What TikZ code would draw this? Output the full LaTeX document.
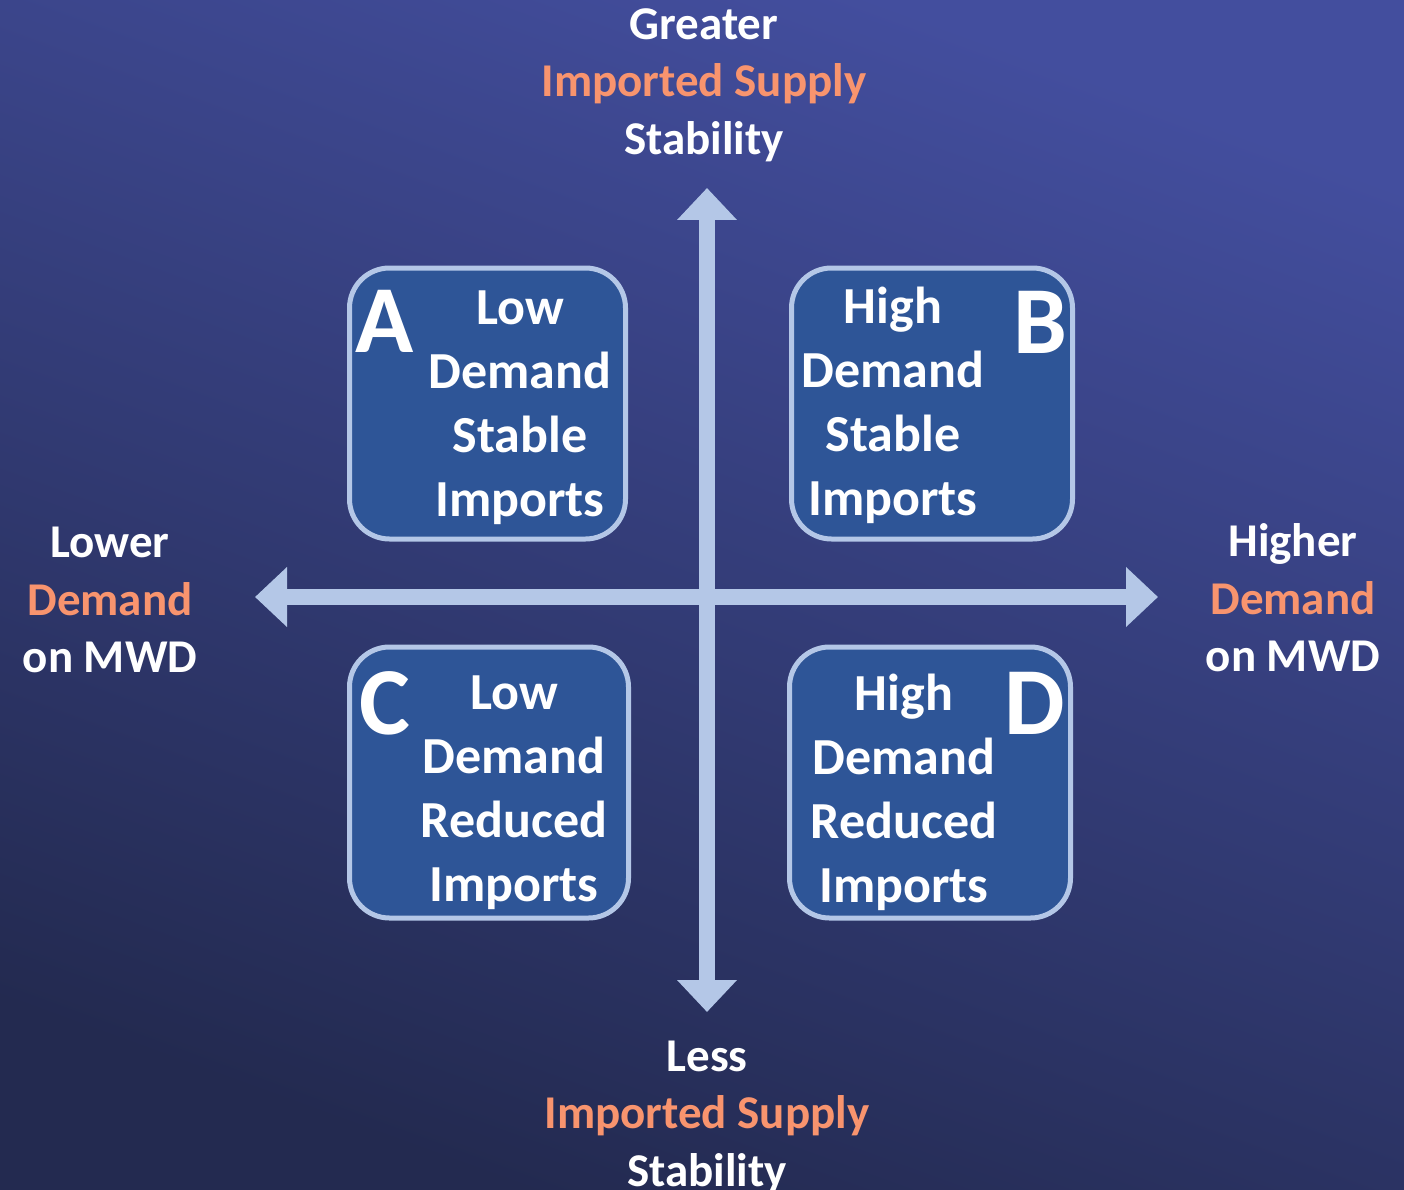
\documentclass[tikz,border=0pt]{standalone}
\usepackage{fontspec}
\setmainfont{Carlito}
\usetikzlibrary{arrows.meta,positioning}
\definecolor{bgtop}{RGB}{67,78,158}
\definecolor{bgbot}{RGB}{35,42,80}
\definecolor{boxblue}{RGB}{46,85,151}
\definecolor{paleblue}{RGB}{180,199,231}
\definecolor{salmon}{RGB}{248,148,110}

\begin{document}
\begin{tikzpicture}[x=1pt, y=-1pt,
    quad/.style={draw=paleblue, line width=5pt, fill=boxblue, rounded corners=40pt, minimum height=271pt},
    quadtext/.style={text=white, align=center, inner sep=0pt, font=\fontsize{52}{64}\selectfont\bfseries},
    quadletter/.style={text=white, inner sep=0pt, font=\fontsize{96}{96}\selectfont\bfseries},
    axlabel/.style={text=white, align=center, inner sep=0pt, font=\fontsize{47}{57.5}\selectfont\bfseries},
    axis/.style={draw=paleblue, line width=16pt, {Triangle[width=58pt,length=32pt]}-{Triangle[width=58pt,length=32pt]}}]

    % Fond
    \shade[top color=bgtop, bottom color=bgbot, shading angle=-20] (0,0) rectangle (1404,1190);
    \useasboundingbox (0,0) rectangle (1404,1190);

    % Axes
    \coordinate (vtop) at (707,188);
    \coordinate (vbot) at (707,1012);
    \coordinate (hleft) at (255,597);
    \coordinate (hright) at (1158,597);
    \draw[axis] (vbot) -- (vtop);
    \draw[axis] (hleft) -- (hright);

    % Quadrants
    \node[quad, minimum width=276pt] (boxA) at (487.5,403.5) {};
    \node[quad, minimum width=281pt] (boxB) at (932,403.5) {};
    \node[quad, minimum width=279pt] (boxC) at (489,782.5) {};
    \node[quad, minimum width=281pt] (boxD) at (930,782.5) {};

    \node[quadtext] (txtA) at (520,408) {Low\\Demand\\Stable\\Imports};
    \node[quadtext] (txtB) at (893,405) {High\\Demand\\Stable\\Imports};
    \node[quadtext] (txtC) at (514,793) {Low\\Demand\\Reduced\\Imports};
    \node[quadtext] (txtD) at (904,792) {High\\Demand\\Reduced\\Imports};

    \node[quadletter] (letA) at (385,321) {A};
    \node[quadletter] (letB) at (1040,322) {B};
    \node[quadletter] (letC) at (385,703) {C};
    \node[quadletter] (letD) at (1035,703) {D};

    % Libelles des axes
    \node[axlabel] (greater) at (704,85) {Greater\\\textcolor{salmon}{Imported Supply}\\Stability};
    \node[axlabel] (less) at (707,1117) {Less\\\textcolor{salmon}{Imported Supply}\\Stability};
    \node[axlabel] (lower) at (110,600) {Lower\\\textcolor{salmon}{Demand}\\on MWD};
    \node[axlabel] (higher) at (1293,598) {Higher\\\textcolor{salmon}{Demand}\\on MWD};
\end{tikzpicture}
\end{document}
